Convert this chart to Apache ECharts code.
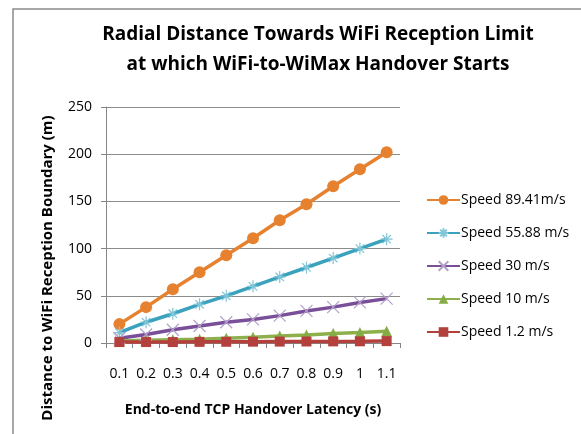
<!DOCTYPE html>
<html><head><meta charset="utf-8">
<script src="https://cdn.jsdelivr.net/npm/echarts@6/dist/echarts.min.js"></script>
<style>html,body{margin:0;padding:0;background:#fff}#c{width:581px;height:434px}</style>
</head><body><div id="c"></div>
<script>
const categories = ['0.1','0.2','0.3','0.4','0.5','0.6','0.7','0.8','0.9','1','1.1'];
const speed8941 = [20, 38, 57, 75, 93, 111, 130, 147, 166, 184, 202];
const speed5588 = [11, 22, 31, 41, 50, 60, 70, 80, 90, 100, 110];
const speed30 = [5, 9, 14, 18, 22, 25, 29, 34, 38, 43, 47];
const speed10 = [2, 3, 3.5, 4, 5, 6, 7.5, 8.5, 10, 11, 12.5];
const speed12 = [1, 1, 1, 1.2, 1.3, 1.4, 1.5, 1.6, 1.7, 1.8, 2];
const seriesNames = ['Speed 89.41m/s','Speed 55.88 m/s','Speed 30 m/s','Speed 10 m/s','Speed 1.2 m/s'];
const yTicks = [0, 50, 100, 150, 200, 250];

const FONT = 'Open Sans';
const chart = echarts.init(document.getElementById('c'));
const star = 'path://M5,0L5,10M0,5L10,5M1.5,1.5L8.5,8.5M8.5,1.5L1.5,8.5';
const cross = 'path://M0,0L10,10M10,0L0,10';
chart.setOption({
  backgroundColor: '#fff',
  animation: false,
  title: {
    text: 'Radial Distance Towards WiFi Reception Limit\nat which WiFi-to-WiMax Handover Starts',
    left: 313, top: 15, textAlign: 'center',
    textStyle: {fontFamily: FONT, fontWeight: 'bold', fontSize: 19, lineHeight: 30, color: '#000'}
  },
  graphic: [
    {type: 'polyline', shape: {points: [[13, 434], [13, 9], [581, 9]]}, style: {stroke: '#8a8a8a', lineWidth: 1.5, fill: null}, silent: true},
    {type: 'text', x: 48, y: 268, rotation: Math.PI / 2,
     style: {text: 'Distance to WiFi Reception Boundary (m)', fontFamily: FONT, fontWeight: 'bold', fontSize: 15, fill: '#000', align: 'center', verticalAlign: 'middle'}}
  ],
  legend: {
    orient: 'vertical', left: 421, top: 188, itemWidth: 33, itemHeight: 12, itemGap: 19,
    textStyle: {fontFamily: FONT, fontSize: 14, color: '#000', padding: [0, 0, 0, -4]},
    data: seriesNames
  },
  grid: {left: 106, right: 181, top: 107, bottom: 91},
  xAxis: {
    type: 'category', data: categories, boundaryGap: true,
    name: 'End-to-end TCP Handover Latency (s)', nameLocation: 'middle', nameGap: 60,
    nameTextStyle: {fontFamily: FONT, fontWeight: 'bold', fontSize: 14, color: '#000'},
    axisLine: {lineStyle: {color: '#868686'}},
    axisTick: {show: true, length: 5, alignWithLabel: false, lineStyle: {color: '#868686'}},
    axisLabel: {fontFamily: FONT, fontSize: 14, color: '#000', margin: 24}
  },
  yAxis: {
    type: 'value', min: yTicks[0], max: yTicks[yTicks.length - 1], interval: 50,
    axisLine: {show: true, lineStyle: {color: '#868686'}},
    axisTick: {show: true, length: 5, inside: false, lineStyle: {color: '#868686'}},
    axisLabel: {fontFamily: FONT, fontSize: 14, color: '#000', margin: 14},
    splitLine: {lineStyle: {color: '#8c8c8c'}}
  },
  series: [
    {name: seriesNames[0], type: 'line', data: speed8941, symbol: 'circle', symbolSize: 12,
     lineStyle: {color: '#e5812f', width: 3.5}, itemStyle: {color: '#e5812f'}},
    {name: seriesNames[1], type: 'line', data: speed5588, symbol: star, symbolSize: 12,
     lineStyle: {color: '#3aa2bc', width: 3.5}, itemStyle: {color: 'rgba(0,0,0,0)', borderColor: '#7fc6d8', borderWidth: 1.2}},
    {name: seriesNames[2], type: 'line', data: speed30, symbol: cross, symbolSize: 12,
     lineStyle: {color: '#7a4f9a', width: 3.5}, itemStyle: {color: 'rgba(0,0,0,0)', borderColor: '#b3a0c9', borderWidth: 1.2}},
    {name: seriesNames[3], type: 'line', data: speed10, symbol: 'triangle', symbolSize: 11,
     lineStyle: {color: '#8db04d', width: 3.5}, itemStyle: {color: '#86ac45'}},
    {name: seriesNames[4], type: 'line', data: speed12, symbol: 'rect', symbolSize: 10,
     lineStyle: {color: '#b4403d', width: 3.5}, itemStyle: {color: '#b4403d'}}
  ]
});
</script></body></html>
